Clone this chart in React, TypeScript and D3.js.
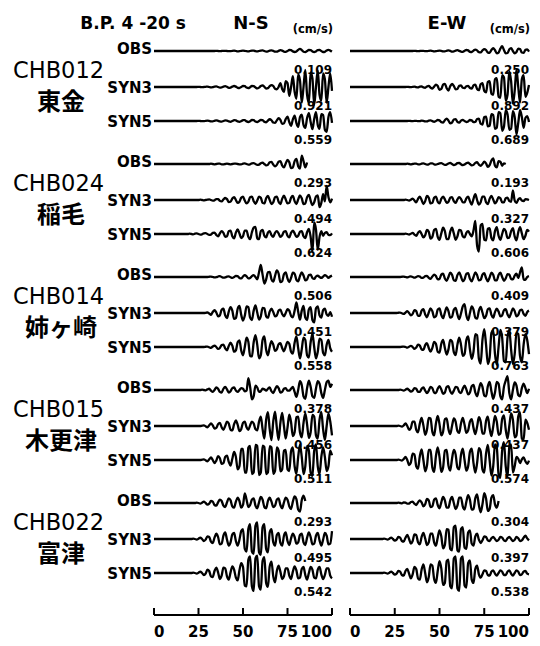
import React from "react";
import * as d3 from "d3";

// station codes / names, row + component labels
const stationCodes = ["CHB012", "CHB024", "CHB014", "CHB015", "CHB022"];
const stationNames = ["東金", "稲毛", "姉ヶ崎", "木更津", "富津"];
const rowLabels = ["OBS", "SYN3", "SYN5"];
const componentLabels = ["N-S", "E-W"];
const timeTicks = [0, 25, 50, 75, 100];

// peak velocities (cm/s) printed under each trace
const peakNS = [
  ["0.109", "0.921", "0.559"],
  ["0.293", "0.494", "0.624"],
  ["0.506", "0.451", "0.558"],
  ["0.378", "0.456", "0.511"],
  ["0.293", "0.495", "0.542"],
];
const peakEW = [
  ["0.250", "0.892", "0.689"],
  ["0.193", "0.327", "0.606"],
  ["0.409", "0.379", "0.763"],
  ["0.437", "0.437", "0.574"],
  ["0.304", "0.397", "0.538"],
];

// velocity traces, 1 s samples from 0 s, in 0.01 cm/s
const chb012NsObs = [
  0, 0, 0, 0, 0, 0, 0, 0, 0, 0, 0, 0, 0, 0, 0, 0, 0, 0, 0, 0,
  0, 0, 0, 0, 0, 0, 0, 0, 0, 0, 0, 0, 0, 0, 0, 1, 0, -1, 0, 1,
  1, 0, -1, -1, 1, 2, 0, -2, -1, 1, 2, 1, -1, -2, 0, 2, 2, -1, -2, 0,
  2, 3, 0, -3, -2, 2, 3, 1, -3, -3, 1, 4, 2, -3, -4, 0, 5, 4, -2, -5,
  -2, 6, 11, 5, -4, -6, 0, 6, 5, -3, -6, -2, 5, 6, 0, -5, -4, 3, 6, 2, -3,
];
const chb012NsSyn3 = [
  0, 0, 0, 0, 0, 0, 0, 0, 0, 0, 0, 0, 0, 0, 0, 0, 0, 0, 0, 0,
  0, 0, 0, 0, 0, 1, 0, -1, 0, 1, 2, 0, -2, -1, 2, 3, 0, -3, -2, 2,
  4, 1, -4, -3, 2, 5, 2, -4, -5, 0, 5, 4, -3, -6, -1, 6, 5, -2, -7, -3,
  5, 8, 1, -8, -6, 4, 10, 5, -9, -12, 0, 20, -10, -25, 30, 20, -45, 0, 55, -25,
  -60, 65, 35, -80, 0, 88, -40, -80, 75, 45, -92, 0, 85, -40, -70, 70, 40, -80, 0, 70, -20,
];
const chb012NsSyn5 = [
  0, 0, 0, 0, 0, 0, 0, 0, 0, 0, 0, 0, 0, 0, 0, 0, 0, 0, 0, 0,
  0, 0, 0, 0, 0, 1, 0, -1, -1, 1, 2, 1, -2, -2, 1, 3, 1, -2, -3, 0,
  3, 2, -2, -4, 0, 4, 3, -2, -4, -1, 4, 4, -2, -5, -1, 5, 4, -3, -6, 0,
  6, 5, -4, -7, 2, 9, 4, -8, -10, 3, 14, 6, -15, -12, 10, 22, -5, -25, 8, 28,
  -10, -30, 20, 32, -20, -35, 15, 40, -5, -42, 10, 45, -20, -40, 35, 30, -45, -56, 20, 45, -10,
];
const chb012EwObs = [
  0, 0, 0, 0, 0, 0, 0, 0, 0, 0, 0, 0, 0, 0, 0, 0, 0, 0, 0, 0,
  0, 0, 0, 0, 0, 0, 0, 0, 0, 0, 0, 0, 0, 0, 0, 0, 1, 0, -1, 0,
  1, 1, -1, -1, 1, 2, 0, -2, -1, 1, 2, 1, -2, -2, 1, 3, 1, -3, -2, 2,
  4, 1, -3, -4, 1, 5, 3, -4, -5, 2, 7, 3, -6, -7, 3, 10, 5, -8, -9, 5,
  14, 4, -12, -8, 12, 25, 5, -12, -10, 8, 15, 0, -12, -5, 12, 10, -8, -10, 6, 8, -3,
];
const chb012EwSyn3 = [
  0, 0, 0, 0, 0, 0, 0, 0, 0, 0, 0, 0, 0, 0, 0, 0, 0, 0, 0, 0,
  0, 0, 0, 0, 0, 0, 0, 0, 0, 0, 0, 0, 1, 0, -1, 1, 2, -1, -2, 2,
  3, -2, -4, 3, 6, -3, -8, 2, 12, 5, -14, -10, 12, 16, -6, -18, 4, 16, 6, -12,
  -10, 6, 8, -4, -6, 4, 6, -5, -8, 8, 12, -10, -16, 14, 20, -20, -28, 25, 30, -35,
  -40, 40, 45, -50, -55, 60, 50, -70, -40, 80, 30, -85, -20, 89, 0, -80, 40, 60, -50, -30, 10,
];
const chb012EwSyn5 = [
  0, 0, 0, 0, 0, 0, 0, 0, 0, 0, 0, 0, 0, 0, 0, 0, 0, 0, 0, 0,
  0, 0, 0, 0, 0, 0, 0, 0, 0, 0, 0, 0, 0, 1, 0, -1, 1, 1, -1, -1,
  2, 1, -2, -2, 2, 3, -1, -4, 0, 5, 3, -6, -8, 4, 12, 2, -12, -8, 8, 10,
  -4, -8, 2, 6, 0, -5, -2, 5, 3, -6, -5, 10, 12, -14, -18, 20, 22, -28, -25, 35,
  30, -40, -35, 45, 40, -50, -30, 55, 35, -45, -40, 50, 20, -69, -10, 55, 20, -35, 15, 25, -5,
];

const chb024NsObs = [
  0, 0, 0, 0, 0, 0, 0, 0, 0, 0, 0, 0, 0, 0, 0, 0, 0, 0, 0, 0,
  0, 0, 0, 0, 0, 0, 0, 0, 0, 0, 0, 0, 1, 0, -1, 0, 1, 1, -1, -1,
  0, 1, 0, -1, 0, 1, 1, 0, -1, -1, 1, 2, 0, -2, -1, 2, 3, 0, -3, -2,
  3, 5, 0, -5, -3, 6, 7, -2, -8, -3, 8, 10, -5, -12, 2, 14, 6, -14, -12, 10,
  18, -8, -16, 29, 10, -12, 5,
];
const chb024NsSyn3 = [
  0, 0, 0, 0, 0, 0, 0, 0, 0, 0, 0, 0, 0, 0, 0, 0, 0, 0, 0, 0,
  0, 0, 0, 0, 0, 0, 1, 0, -1, 0, 1, 2, 0, -2, -1, 3, 3, -3, -5, 2,
  7, 3, -7, -6, 5, 10, 0, -10, -6, 8, 12, -2, -12, -6, 10, 12, -4, -13, -2, 12,
  8, -10, -12, 6, 14, 0, -14, -8, 10, 12, -6, -14, 4, 15, 2, -12, -10, 8, 14, -4,
  -14, 2, 16, 6, -14, -12, 10, 18, -2, -18, -8, 12, 16, -25, -10, 20, -5, 49, 10, -8, 5,
];
const chb024NsSyn5 = [
  0, 0, 0, 0, 0, 0, 0, 0, 0, 0, 0, 0, 0, 0, 0, 0, 0, 0, 0, 0,
  1, 0, -1, 1, 2, 0, -2, -1, 2, 3, 0, -3, -2, 4, 5, -3, -8, 2, 10, 4,
  -10, -8, 10, 12, -8, -15, 5, 16, 2, -14, -8, 12, 12, -10, -18, 6, 22, 25, -15, -18,
  10, 14, -6, -12, 5, 10, -4, -10, 4, 10, 2, -10, -5, 8, 10, -6, -12, 4, 12, 2,
  -10, -6, 8, 10, -8, -14, 6, 18, -10, -62, 40, 15, -55, -10, 10, -6, 4, 6, -3, -4, 2,
];
const chb024EwObs = [
  0, 0, 0, 0, 0, 0, 0, 0, 0, 0, 0, 0, 0, 0, 0, 0, 0, 0, 0, 0,
  0, 0, 0, 0, 0, 0, 0, 0, 0, 0, 0, 0, 1, 0, -1, 0, 1, 1, -1, -1,
  1, 2, 0, -2, -1, 2, 2, -1, -2, 0, 2, 3, 0, -3, -2, 2, 4, 0, -4, -2,
  3, 4, -1, -4, -2, 3, 5, 0, -5, -3, 4, 6, -2, -6, 0, 8, 2, -10, -4, 12,
  19, -6, -12, 10, 8, -6, 2, 0,
];
const chb024EwSyn3 = [
  0, 0, 0, 0, 0, 0, 0, 0, 0, 0, 0, 0, 0, 0, 0, 0, 0, 0, 0, 0,
  0, 0, 0, 0, 0, 0, 0, 0, 0, 0, 0, 1, 0, -2, 1, 5, -2, -8, 4, 12,
  0, -14, -4, 14, 8, -12, -10, 8, 12, -6, -12, 4, 12, 2, -10, -6, 8, 10, -4, -10,
  2, 10, 4, -8, -8, 6, 12, -4, -16, 4, 20, 0, -16, -8, 12, 12, -8, -14, 4, 14,
  2, -12, -4, 10, 6, -8, -8, 6, 8, -4, -6, 33, -2, -10, 2, 6, -2, -4, 3, 2, 0,
];
const chb024EwSyn5 = [
  0, 0, 0, 0, 0, 0, 0, 0, 0, 0, 0, 0, 0, 0, 0, 0, 0, 0, 0, 0,
  0, 0, 0, 0, 0, 0, 0, 0, 0, 0, 0, 1, 0, -2, 1, 4, -2, -6, 4, 10,
  0, -12, -4, 14, 8, -16, -10, 14, 18, -10, -20, 2, 22, 10, -18, -18, 8, 22, 2, -20,
  -8, 14, 12, -8, -12, 4, 10, 0, -8, 12, 45, -40, -61, 30, 35, -20, -22, 18, 20, -14,
  -22, 10, 24, -6, -20, 0, 18, 10, -14, -12, 10, 20, -8, -22, 6, 24, 2, -18, -6, 14, 8,
];

const chb014NsObs = [
  0, 0, 0, 0, 0, 0, 0, 0, 0, 0, 0, 0, 0, 0, 0, 0, 0, 0, 0, 0,
  0, 0, 0, 0, 0, 0, 0, 0, 0, 0, 0, 1, 2, 0, -2, -1, 2, 4, 0, -3,
  -2, 2, 3, -1, -4, 0, 5, 4, -4, -6, 2, 8, 3, -6, -4, 4, 8, 0, -10, 20,
  51, 10, -28, -10, 20, 22, -10, -20, 5, 28, 15, -22, -18, 12, 20, -6, -22, -4, 18, 14,
  -12, -18, 4, 20, 6, -14, -10, 8, 10, -4, -8, 2, 6, 0, -4, 2, 8, 4, -4, 2, 6,
];
const chb014NsSyn3 = [
  0, 0, 0, 0, 0, 0, 0, 0, 0, 0, 0, 0, 0, 0, 0, 0, 0, 0, 0, 0,
  0, 0, 0, 0, 0, 0, 0, 0, 0, 1, 3, -2, -8, 4, 12, 2, -14, -10, 14, 18,
  -10, -22, 6, 25, 10, -25, -22, 18, 30, -8, -32, -12, 28, 25, -20, -30, 10, 32, 2, -28,
  -14, 22, 20, -14, -20, 6, 18, 4, -14, -10, 10, 14, -4, -14, 0, 16, 10, -12, -18, 10,
  45, 5, -28, 10, 30, -20, -30, 15, 25, -30, -40, 20, 28, -10, -20, 12, 18, -6, -12, 4, -16,
];
const chb014NsSyn5 = [
  0, 0, 0, 0, 0, 0, 0, 0, 0, 0, 0, 0, 0, 0, 0, 0, 0, 0, 0, 0,
  0, 0, 0, 0, 0, 0, 0, 0, 0, 1, 2, -1, -4, 2, 6, 0, -8, -4, 8, 10,
  -6, -14, 4, 18, 6, -20, -14, 20, 28, -15, -35, 0, 40, 22, -38, -40, 20, 50, 10, -48,
  -35, 30, 45, -12, -35, 0, 25, 10, -16, -10, 12, 16, -4, -18, 2, 22, 14, -20, -28, 18,
  45, -5, -48, -10, 40, 30, -35, -45, 20, 56, 0, -48, -20, 35, 30, -25, -35, 10, 30, -5, -20,
];
const chb014EwObs = [
  0, 0, 0, 0, 0, 0, 0, 0, 0, 0, 0, 0, 0, 0, 0, 0, 0, 0, 0, 0,
  0, 0, 0, 0, 0, 0, 0, 0, 0, 1, 2, 0, -2, 1, 3, 0, -3, 0, 4, 2,
  -4, -3, 4, 5, -4, -8, 2, 10, 4, -10, -8, 10, 14, -6, -16, 0, 18, 10, -14, -16,
  8, 20, 2, -18, -10, 14, 16, -8, -18, 0, 20, 8, -14, -12, 10, 16, -4, -18, -2, 18,
  10, -14, -14, 8, 18, 0, -16, -6, 12, 10, -8, -10, 6, 14, -4, 20, 41, -10, -12, 0, 4,
];
const chb014EwSyn3 = [
  0, 0, 0, 0, 0, 0, 0, 0, 0, 0, 0, 0, 0, 0, 0, 0, 0, 0, 0, 0,
  0, 0, 0, 0, 0, 0, 0, 1, 2, -1, -4, 2, 8, 0, -10, -4, 12, 8, -12, -12,
  10, 16, -6, -18, 2, 20, 8, -18, -14, 14, 20, -8, -22, 2, 24, 8, -20, -16, 14, 22,
  -6, -26, -2, 28, 38, -10, -30, 0, 28, 14, -20, -24, 10, 26, 2, -22, -12, 16, 20, -8,
  -20, 4, 18, 6, -14, -10, 12, 16, -6, -18, 0, 20, 8, -14, -8, 12, 14, -4, -12, 4, 10,
];
const chb014EwSyn5 = [
  0, 0, 0, 0, 0, 0, 0, 0, 0, 0, 0, 0, 0, 0, 0, 0, 0, 0, 0, 0,
  0, 0, 0, 0, 0, 0, 0, 0, 0, 1, 2, 0, -3, 1, 5, 0, -8, -2, 10, 6,
  -10, -12, 8, 16, -4, -20, -4, 22, 14, -20, -24, 14, 30, -4, -32, -10, 30, 24, -22, -34,
  10, 40, 10, -38, -30, 30, 45, -10, -50, -20, 55, 50, -50, -70, 30, 76, 10, -72, -45, 60,
  70, -30, -75, 0, 72, 40, -60, -65, 40, 72, -10, -72, -30, 60, 55, -40, -65, 10, 55, 30, -30,
];

const chb015NsObs = [
  0, 0, 0, 0, 0, 0, 0, 0, 0, 0, 0, 0, 0, 0, 0, 0, 0, 0, 0, 0,
  0, 0, 0, 0, 0, 0, 0, 1, 0, -1, 2, 4, -2, -6, 0, 8, 4, -6, -8, 4,
  10, 2, -8, -4, 6, 8, -2, -6, 0, 6, 4, -4, -2, 38, 10, -30, -20, 14, 8, -6,
  -4, 4, 2, -2, 4, 8, -4, -10, 2, 12, 6, -8, -6, 4, 6, -2, -2, 4, 10, -6,
  -22, 0, 28, 16, -20, -28, 6, 30, 10, -20, -25, 5, 28, 20, -10, -25, 0, 25, 30, 10, 20,
];
const chb015NsSyn3 = [
  0, 0, 0, 0, 0, 0, 0, 0, 0, 0, 0, 0, 0, 0, 0, 0, 0, 0, 0, 0,
  0, 0, 0, 0, 0, 0, 0, 1, 2, -1, -4, 2, 8, 2, -8, -6, 6, 10, -4, -12,
  0, 14, 8, -12, -14, 6, 18, 4, -16, -10, 10, 14, -4, -12, 2, 14, 8, -10, -14, 14,
  30, -10, -40, 20, 44, -10, -45, 15, 46, -5, -44, 10, 42, 0, -40, -5, 36, 12, -32, -20,
  28, 30, -20, -36, 10, 40, 5, -38, -20, 35, 30, -30, -40, 20, 45, -10, -44, 0, 40, 15, -30,
];
const chb015NsSyn5 = [
  0, 0, 0, 0, 0, 0, 0, 0, 0, 0, 0, 0, 0, 0, 0, 0, 0, 0, 0, 0,
  0, 0, 0, 0, 0, 0, 0, 1, 2, -1, -4, 2, 8, 0, -10, -2, 12, 6, -12, -10,
  10, 14, -6, -18, 4, 26, 10, -30, -20, 35, 35, -40, -40, 40, 45, -45, -40, 48, 45, -48,
  -40, 46, 42, -45, -40, 44, 40, -44, -35, 40, 30, -36, -30, 30, 32, -30, -35, 28, 40, -20,
  -44, 10, 48, 10, -45, -20, 45, 30, -40, -51, 30, 50, -20, -45, 10, 40, 10, -35, -20, 30, 15,
];
const chb015EwObs = [
  0, 0, 0, 0, 0, 0, 0, 0, 0, 0, 0, 0, 0, 0, 0, 0, 0, 0, 0, 0,
  0, 0, 0, 0, 0, 0, 0, 0, 1, 0, -2, 1, 4, 0, -5, -2, 6, 4, -6, -6,
  4, 8, -2, -10, -2, 10, 6, -8, -10, 4, 12, 2, -12, -8, 10, 12, -4, -12, -2, 10,
  8, -6, -10, 4, 14, 2, -14, -8, 12, 16, -8, -20, 2, 22, 10, -18, -20, 12, 26, -4,
  -28, -8, 26, 20, -20, -30, 10, 30, 44, -10, -30, 0, 24, 14, -16, -20, 6, 20, 6, -10, 4,
];
const chb015EwSyn3 = [
  0, 0, 0, 0, 0, 0, 0, 0, 0, 0, 0, 0, 0, 0, 0, 0, 0, 0, 0, 0,
  0, 0, 0, 0, 0, 0, 0, 1, 0, -2, 2, 8, 0, -12, -6, 14, 14, -12, -20, 8,
  26, 2, -28, -12, 26, 24, -18, -30, 8, 32, 6, -30, -18, 22, 24, -10, -26, 0, 24, 14,
  -16, -22, 8, 26, 4, -22, -14, 14, 22, -6, -26, -2, 28, 14, -24, -24, 16, 30, -8, -32,
  -2, 32, 14, -28, -24, 22, 34, -12, -40, 0, 40, 20, -36, -30, 30, 44, -40, -44, 20, 10, -12,
];
const chb015EwSyn5 = [
  0, 0, 0, 0, 0, 0, 0, 0, 0, 0, 0, 0, 0, 0, 0, 0, 0, 0, 0, 0,
  0, 0, 0, 0, 0, 0, 0, 1, 0, -2, 3, 10, 0, -16, -8, 20, 18, -20, -28, 12,
  34, 0, -36, -18, 32, 32, -24, -38, 12, 40, 10, -38, -24, 30, 32, -18, -34, 4, 32, 18,
  -24, -30, 16, 36, 0, -34, -20, 26, 36, -10, -40, -10, 38, 28, -30, -40, 20, 48, 0, -50,
  -20, 50, 40, -45, -57, 30, 57, -20, -55, 40, 50, -40, -20, 10, 4, -10, 2, 8, -4, -12, -2,
];

const chb022NsObs = [
  0, 0, 0, 0, 0, 0, 0, 0, 0, 0, 0, 0, 0, 0, 0, 0, 0, 0, 0, 0,
  0, 0, 0, 0, 1, 0, -2, 1, 4, 0, -5, -2, 6, 4, -6, -8, 2, 10, 6, -8,
  -12, 2, 14, 8, -10, -14, 4, 16, 6, -14, -6, 29, 10, -12, -6, 10, 14, -8, -16, 2,
  18, 10, -12, -16, 6, 16, 4, -12, -8, 10, 14, -6, -16, 2, 16, 10, -10, -18, 4, 20,
  12, -20, -26, 8, 22, 6,
];
const chb022NsSyn3 = [
  0, 0, 0, 0, 0, 0, 0, 0, 0, 0, 0, 0, 0, 0, 0, 0, 0, 0, 0, 0,
  0, 0, 1, 0, -2, 1, 4, 0, -6, -2, 8, 6, -8, -12, 4, 16, 6, -16, -14, 10,
  20, -2, -20, -10, 14, 18, -6, -20, -2, 24, 30, -30, -38, 30, 45, -38, -45, 40, 50, -40,
  -48, 35, 45, -30, -40, 20, 30, -10, -20, 12, 18, -12, -20, 10, 20, -6, -18, 2, 16, 6,
  -14, -10, 12, 16, -10, -18, 4, 20, 6, -16, -14, 10, 18, -4, -20, -2, 18, 10, -16, -14, 24,
];
const chb022NsSyn5 = [
  0, 0, 0, 0, 0, 0, 0, 0, 0, 0, 0, 0, 0, 0, 0, 0, 0, 0, 0, 0,
  0, 0, 1, 0, -2, 1, 4, 0, -6, -2, 10, 6, -10, -12, 6, 16, 2, -18, -8, 16,
  14, -10, -20, 2, 20, 10, -14, -22, 8, 30, 18, -38, -40, 40, 50, -40, -54, 44, 52, -40,
  -50, 36, 48, -30, -42, 20, 34, -10, -28, 6, 22, 4, -18, -10, 14, 14, -8, -18, 4, 20,
  8, -16, -14, 12, 18, -6, -20, 0, 18, 10, -14, -16, 10, 18, -4, -18, -6, 14, 14, -8, -16,
];
const chb022EwObs = [
  0, 0, 0, 0, 0, 0, 0, 0, 0, 0, 0, 0, 0, 0, 0, 0, 0, 0, 0, 0,
  0, 0, 0, 0, 0, 0, 0, 1, 0, -1, 2, 1, -2, -2, 3, 4, -2, -6, 2, 8,
  2, -10, -4, 12, 8, -12, -10, 10, 14, -6, -16, 2, 18, 8, -14, -14, 8, 18, 0, -18,
  -8, 16, 16, -10, -20, 4, 24, 10, -20, -18, 14, 26, -6, -28, -4, 30, 14, -24, -18, 16,
  24, -4, -14, 6,
];
const chb022EwSyn3 = [
  0, 0, 0, 0, 0, 0, 0, 0, 0, 0, 0, 0, 0, 0, 0, 0, 0, 0, 0, 1,
  0, -2, 1, 4, 0, -5, -2, 6, 4, -6, -8, 4, 12, 0, -14, -6, 14, 12, -10, -16,
  6, 18, 2, -18, -10, 16, 16, -10, -20, 4, 26, 8, -28, -18, 30, 28, -30, -34, 36, 40,
  -34, -38, 30, 36, -26, -30, 20, 26, -14, -20, 8, 16, -2, -12, -4, 8, 6, -4, -6, 2,
  6, 0, -6, -2, 6, 4, -4, -6, 2, 6, 0, -6, -2, 6, 2, -6, -4, 4, 10, 2, -4,
];
const chb022EwSyn5 = [
  0, 0, 0, 0, 0, 0, 0, 0, 0, 0, 0, 0, 0, 0, 0, 0, 0, 0, 0, 1,
  0, -2, 1, 4, 0, -5, -2, 6, 4, -6, -8, 6, 12, -2, -16, -4, 18, 12, -16, -20,
  10, 26, 0, -28, -12, 26, 22, -18, -30, 6, 36, 14, -36, -30, 36, 40, -40, -46, 44, 50,
  -46, -54, 44, 50, -38, -44, 30, 38, -20, -30, 12, 22, -4, -14, -4, 8, 6, -6, -8, 4,
  8, -2, -8, 0, 8, 4, -6, -6, 4, 8, -2, -8, 0, 8, 4, -6, -4, 4, 6, -2, -4,
];

const tracesNS = [
  [chb012NsObs, chb012NsSyn3, chb012NsSyn5],
  [chb024NsObs, chb024NsSyn3, chb024NsSyn5],
  [chb014NsObs, chb014NsSyn3, chb014NsSyn5],
  [chb015NsObs, chb015NsSyn3, chb015NsSyn5],
  [chb022NsObs, chb022NsSyn3, chb022NsSyn5],
];
const tracesEW = [
  [chb012EwObs, chb012EwSyn3, chb012EwSyn5],
  [chb024EwObs, chb024EwSyn3, chb024EwSyn5],
  [chb014EwObs, chb014EwSyn3, chb014EwSyn5],
  [chb015EwObs, chb015EwSyn3, chb015EwSyn5],
  [chb022EwObs, chb022EwSyn3, chb022EwSyn5],
];

const W = 540;
const H = 646;
const panels = [
  { x0: 154, x1: 332, traces: tracesNS, peaks: peakNS, titleX: 251 },
  { x0: 350, x1: 529, traces: tracesEW, peaks: peakEW, titleX: 447 },
];
const stationTop0 = 51;
const stationStep = 113;
const rowOffsets = [0, 36, 70];
const halfHeight = 18;
const axisY = 615;

const numFont = "'DejaVu Sans', sans-serif";

export default function App() {
  return (
    <svg
      width={W}
      height={H}
      style={{ position: "absolute", left: 0, top: 0, background: "#fff" }}
    >
      <text x={186} y={29} textAnchor="end" fontFamily={numFont} fontWeight="bold" fontSize={17}>
        B.P. 4 -20 s
      </text>
      {panels.map((p, ci) => (
        <g key={ci}>
          <text
            x={p.titleX}
            y={29}
            textAnchor="middle"
            fontFamily={numFont}
            fontWeight="bold"
            fontSize={18}
          >
            {componentLabels[ci]}
          </text>
          <text
            x={p.x1 + 1}
            y={33}
            textAnchor="end"
            fontFamily={numFont}
            fontWeight="bold"
            fontSize={11.5}
          >
            (cm/s)
          </text>
        </g>
      ))}

      {stationCodes.map((code, si) => {
        const top = stationTop0 + stationStep * si;
        // one amplitude scale per station, from its largest printed peak
        const stationMax = d3.max(
          [...peakNS[si], ...peakEW[si]].map((v) => +v)
        ) as number;
        const amp = d3
          .scaleLinear()
          .domain([-stationMax, stationMax])
          .range([halfHeight, -halfHeight]);
        return (
          <g key={code}>
            <text x={13} y={top + 27} fontFamily={numFont} fontSize={22.5}>
              {code}
            </text>
            <text
              x={61}
              y={top + 59}
              textAnchor="middle"
              fontFamily="'Noto Sans CJK JP', sans-serif"
              fontWeight="bold"
              fontSize={24}
            >
              {stationNames[si]}
            </text>
            {rowLabels.map((lab, ri) => (
              <text
                key={lab}
                x={152}
                y={top + rowOffsets[ri] + (ri === 0 ? 3 : 5.5)}
                textAnchor="end"
                fontFamily={numFont}
                fontWeight="bold"
                fontSize={15}
              >
                {lab}
              </text>
            ))}
            {panels.map((p, ci) => {
              const x = d3.scaleLinear().domain([0, 100]).range([p.x0, p.x1]);
              return p.traces[si].map((vals, ri) => {
                const base = top + rowOffsets[ri];
                const ln = d3
                  .line<number>()
                  .x((_, i) => x(i))
                  .y((v) => base + amp(v / 100))
                  .curve(d3.curveMonotoneX);
                return (
                  <g key={ci + "-" + ri}>
                    <path
                      d={ln(vals) || ""}
                      fill="none"
                      stroke="#000"
                      strokeWidth={2.3}
                      strokeLinejoin="round"
                    />
                    <text
                      x={p.x1}
                      y={base + 23}
                      textAnchor="end"
                      fontFamily={numFont}
                      fontWeight="bold"
                      fontSize={12}
                    >
                      {p.peaks[si][ri]}
                    </text>
                  </g>
                );
              });
            })}
          </g>
        );
      })}

      {panels.map((p, ci) => {
        const x = d3.scaleLinear().domain([0, 100]).range([p.x0, p.x1]);
        return (
          <g key={"ax" + ci}>
            <line
              x1={x(0)}
              x2={x(100)}
              y1={axisY}
              y2={axisY}
              stroke="#000"
              strokeWidth={2}
            />
            {timeTicks.map((t, i) => (
              <g key={t}>
                <line
                  x1={x(t)}
                  x2={x(t)}
                  y1={axisY}
                  y2={axisY - 7}
                  stroke="#000"
                  strokeWidth={2}
                />
                <text
                  x={x(t)}
                  y={axisY + 22}
                  textAnchor={
                    i === 0 ? "start" : i === timeTicks.length - 1 ? "end" : "middle"
                  }
                  fontFamily={numFont}
                  fontWeight="bold"
                  fontSize={15}
                >
                  {t}
                </text>
              </g>
            ))}
          </g>
        );
      })}
    </svg>
  );
}
